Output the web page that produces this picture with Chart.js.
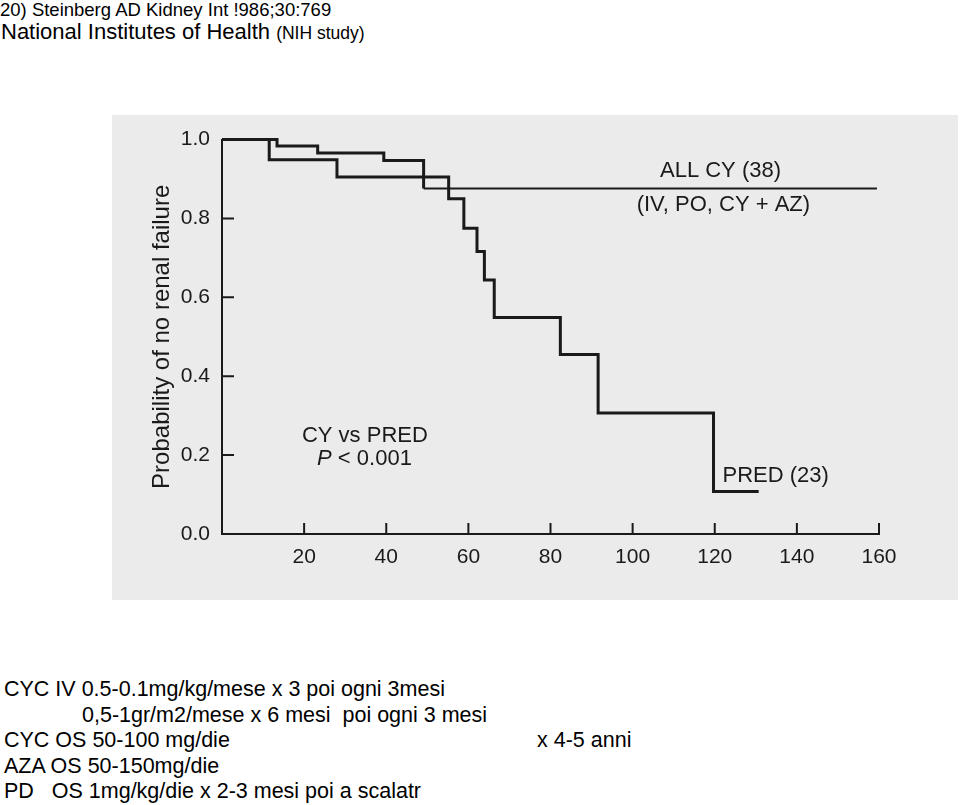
<!DOCTYPE html>
<html>
<head>
<meta charset="utf-8">
<script src="https://cdn.jsdelivr.net/npm/chart.js@4.4.1/dist/chart.umd.min.js"></script>
<style>
    body { margin: 0; width: 960px; height: 805px; background: #fff; position: relative; overflow: hidden;
           font-family: "Liberation Sans", Arial, sans-serif; color: #000; }
    .txt { position: absolute; white-space: pre; line-height: 1; }
    .nota { font-size: 21.5px; }
    #wrap { position: absolute; left: 112px; top: 115px; width: 846px; height: 485px; background: #ebebeb; }
</style>
</head>
<body>
<div class="txt" style="left:0; top:1px; font-size:18.5px;">20) Steinberg AD Kidney Int !986;30:769</div>
<div class="txt" style="left:1px; top:21px; font-size:22px;">National Institutes of Health <span style="font-size:17.5px;">(NIH study)</span></div>

<div id="wrap"><canvas id="km" width="846" height="485"></canvas></div>

<div class="txt nota" style="left:4px; top:679px;">CYC IV 0.5-0.1mg/kg/mese x 3 poi ogni 3mesi</div>
<div class="txt nota" style="left:82px; top:705px;">0,5-1gr/m2/mese x 6 mesi  poi ogni 3 mesi</div>
<div class="txt nota" style="left:4px; top:730px;">CYC OS 50-100 mg/die</div>
<div class="txt nota" style="left:537px; top:730px;">x 4-5 anni</div>
<div class="txt nota" style="left:4px; top:756px;">AZA OS 50-150mg/die</div>
<div class="txt nota" style="left:4px; top:781px;">PD   OS 1mg/kg/die x 2-3 mesi poi a scalatr</div>

<script>
// tempi (mesi) e probabilità
const cyTimes   = [0, 13.4, 23.3, 39.4, 49.1, 159.5];
const cyValues  = [1.0, 0.984, 0.966, 0.947, 0.876, 0.876];
const predTimes  = [0, 11.5, 28.0, 55.2, 58.9, 62.1, 63.9, 66.3, 82.4, 91.6, 119.7, 130.7];
const predValues = [1.0, 0.949, 0.905, 0.850, 0.775, 0.716, 0.644, 0.549, 0.455, 0.307, 0.108, 0.108];
const xTicks = [20, 40, 60, 80, 100, 120, 140, 160];
const yTicks = [0.2, 0.4, 0.6, 0.8];

const ink = '#1a1a1a';
const fontFam = '"Liberation Sans", Arial, sans-serif';

function toPoints(xs, ys) {
    return xs.map((x, i) => ({ x: x, y: ys[i] }));
}

// etichette nel grafico, in coordinate dei dati
const notes = [
    { text: 'ALL CY (38)', x: 121.4, y: 0.92, align: 'center' },
    { text: '(IV, PO, CY + AZ)', x: 122.1, y: 0.835, align: 'center' },
    { text: 'CY vs PRED', x: 34.8, y: 0.249, align: 'center' },
    { text: 'PRED (23)', x: 121.9, y: 0.147, align: 'left' }
];

const innerTicks = {
    id: 'innerTicks',
    afterDraw(chart) {
        const ctx = chart.ctx;
        const xs = chart.scales.x, ys = chart.scales.y;
        const x0 = xs.getPixelForValue(0), y0 = ys.getPixelForValue(0);
        ctx.save();
        ctx.strokeStyle = ink;
        ctx.lineWidth = 2;
        ctx.beginPath();
        yTicks.forEach(v => {
            const py = ys.getPixelForValue(v);
            ctx.moveTo(x0, py);
            ctx.lineTo(x0 + 12, py);
        });
        xTicks.forEach(v => {
            const px = xs.getPixelForValue(v);
            ctx.moveTo(px, y0);
            ctx.lineTo(px, y0 - 11);
        });
        ctx.stroke();

        ctx.fillStyle = ink;
        ctx.textBaseline = 'middle';
        ctx.font = '22px ' + fontFam;
        notes.forEach(n => {
            ctx.textAlign = n.align;
            ctx.fillText(n.text, xs.getPixelForValue(n.x), ys.getPixelForValue(n.y));
        });
        // P < 0.001 con la P in corsivo
        const px = xs.getPixelForValue(34.7), py = ys.getPixelForValue(0.19);
        ctx.font = 'italic 22px ' + fontFam;
        const wP = ctx.measureText('P').width;
        ctx.font = '22px ' + fontFam;
        const rest = ' < 0.001';
        const wR = ctx.measureText(rest).width;
        const start = px - (wP + wR) / 2;
        ctx.textAlign = 'left';
        ctx.font = 'italic 22px ' + fontFam;
        ctx.fillText('P', start, py);
        ctx.font = '22px ' + fontFam;
        ctx.fillText(rest, start + wP, py);
        ctx.restore();
    }
};

const ctx = document.getElementById('km').getContext('2d');
const kmChart = new Chart(ctx, {
    type: 'line',
    data: {
        datasets: [{
            label: 'ALL CY (38)',
            data: toPoints(cyTimes, cyValues),
            stepped: true,
            borderColor: ink,
            borderWidth: 3,
            segment: {
                borderWidth: c => c.p0.parsed.x >= 49 ? 2 : 3
            },
            pointRadius: 0,
            fill: false,
            clip: false
        }, {
            label: 'PRED (23)',
            data: toPoints(predTimes, predValues),
            stepped: true,
            borderColor: ink,
            borderWidth: 3,
            pointRadius: 0,
            fill: false,
            clip: false
        }]
    },
    options: {
        responsive: false,
        animation: false,
        layout: { padding: { top: 18, right: 79, left: 0, bottom: 0 } },
        plugins: {
            legend: { display: false },
            tooltip: { enabled: false }
        },
        scales: {
            x: {
                type: 'linear',
                min: 0,
                max: 160,
                afterFit: s => { s.height = 66; },
                grid: { display: false, drawTicks: false },
                border: { display: true, color: ink, width: 2 },
                ticks: {
                    stepSize: 20,
                    padding: 11,
                    color: ink,
                    font: { size: 21, family: fontFam },
                    callback: v => v === 0 ? '' : v
                }
            },
            y: {
                min: 0,
                max: 1,
                afterFit: s => { s.width = 110; },
                grid: { display: false, drawTicks: false },
                border: { display: true, color: ink, width: 2 },
                ticks: {
                    stepSize: 0.2,
                    padding: 12,
                    color: ink,
                    font: { size: 21, family: fontFam },
                    callback: v => v.toFixed(1)
                },
                title: {
                    display: true,
                    text: 'Probability of no renal failure',
                    color: ink,
                    font: { size: 24, family: fontFam },
                    padding: { top: 36, bottom: 0 }
                }
            }
        }
    },
    plugins: [innerTicks]
});
</script>
</body>
</html>
